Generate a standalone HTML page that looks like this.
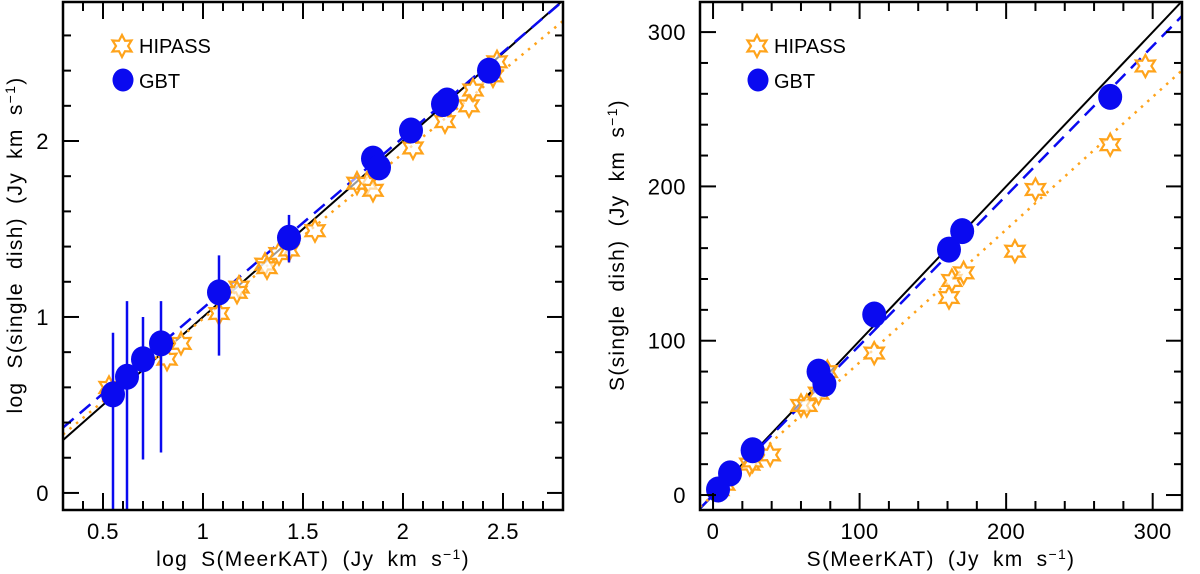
<!DOCTYPE html>
<html><head><meta charset="utf-8"><style>
html,body{margin:0;padding:0;background:#fff;}
svg{display:block;font-family:"Liberation Sans",sans-serif;}
</style></head><body>
<svg id="chart" width="1200" height="574" viewBox="0 0 1200 574" xmlns="http://www.w3.org/2000/svg"></svg>
<script>
// ---- Left panel data (log) ----
const logGbtX = [0.55,0.62,0.70,0.79,1.08,1.43,1.85,1.88,2.04,2.20,2.22,2.43];
const logGbtY = [0.56,0.66,0.76,0.85,1.14,1.45,1.90,1.85,2.06,2.21,2.23,2.40];
const logGbtErrLo = [-0.2,-0.2,0.19,0.23,0.78,1.31,null,null,null,null,null,null];
const logGbtErrHi = [0.91,1.09,1.00,1.09,1.35,1.58,null,null,null,null,null,null];
const logHipX = [0.53,0.82,0.89,1.08,1.18,1.17,1.31,1.32,1.38,1.43,1.56,1.77,1.82,1.85,2.05,2.21,2.33,2.35,2.45,2.47];
const logHipY = [0.60,0.76,0.85,1.02,1.17,1.14,1.30,1.28,1.36,1.38,1.49,1.76,1.76,1.72,1.96,2.11,2.20,2.29,2.37,2.45];
const logTicksX = [0.5,1,1.5,2,2.5];
const logTicksY = [0,1,2];
const logFitBlue = [0.97,0.08];   // slope, intercept
const logFitOrange = [0.94,0.05];
// ---- Right panel data (linear) ----
const linGbtX = [3.4,11.6,27,72,76,110,161,170,271];
const linGbtY = [3.6,14,29,80,72,117,159,171,258];
const linHipX = [4,8,25,27,39,60,64,72,78,110,161,163,171,206,220,271,295];
const linHipY = [3.5,7,20,22,26,58,58,66,80,92,128,139,144,158,198,227,278];
const linTicks = [0,100,200,300];
const linFitBlue = [0.97,0];
const linFitOrange = [0.86,0];

const NS="http://www.w3.org/2000/svg";
const svg=document.getElementById('chart');
function mk(tag,attrs,parent){const e=document.createElementNS(NS,tag);for(const k in attrs)e.setAttribute(k,attrs[k]);(parent||svg).appendChild(e);return e;}
const BLUE="#0a0af0", ORANGE="#ffa31a";

function starPath(cx,cy,R){
  const r=R*0.55;let d="";
  for(let i=0;i<12;i++){const a=-Math.PI/2+i*Math.PI/6;const rr=i%2?r:R;d+=(i?"L":"M")+(cx+rr*Math.cos(a)).toFixed(1)+" "+(cy+rr*Math.sin(a)).toFixed(1);}
  return d+"Z";
}

function panel(cfg){
  const g=mk('g',{});
  
  
  const {x0,x1,y0,y1,xmin,xmax,ymin,ymax}=cfg;
  const sx=v=>x0+(v-xmin)/(xmax-xmin)*(x1-x0);
  const sy=v=>y1-(v-ymin)/(ymax-ymin)*(y1-y0);
  const clip='clip-'+cfg.name;
  const cp=mk('clipPath',{id:clip},g);mk('rect',{x:x0,y:y0,width:x1-x0,height:y1-y0},cp);
  const pg=mk('g',{'clip-path':'url(#'+clip+')'},g);
  const l1=mk('line',{x1:sx(xmin),y1:sy(xmin),x2:sx(xmax),y2:sy(xmax),stroke:'#000','stroke-width':2},pg);
  
  
  const fb=cfg.fitBlue;
  const l2=mk('line',{x1:sx(xmin),y1:sy(fb[0]*xmin+fb[1]),x2:sx(xmax),y2:sy(fb[0]*xmax+fb[1]),stroke:BLUE,'stroke-width':2.5,'stroke-dasharray':'14 8'},pg);
  
  
  const fo=cfg.fitOrange;
  const l3=mk('line',{x1:sx(xmin),y1:sy(fo[0]*xmin+fo[1]),x2:sx(xmax),y2:sy(fo[0]*xmax+fo[1]),stroke:ORANGE,'stroke-width':2.5,'stroke-dasharray':'2.5 6'},pg);
  
  
  cfg.hipX.forEach((v,i)=>{
    const s=mk('path',{d:starPath(sx(v),sy(cfg.hipY[i]),11),fill:'#fff','fill-opacity':0.6,stroke:ORANGE,'stroke-width':2.2},pg);
    
    
  });
  if(cfg.errLo){cfg.gbtX.forEach((v,i)=>{if(cfg.errLo[i]==null)return;
    const e=mk('line',{x1:sx(v),x2:sx(v),y1:sy(cfg.errLo[i]),y2:sy(cfg.errHi[i]),stroke:BLUE,'stroke-width':2.5},pg);
    
    
  });}
  cfg.gbtX.forEach((v,i)=>{
    const c=mk('ellipse',{cx:sx(v),cy:sy(cfg.gbtY[i]),rx:12,ry:13,fill:BLUE},pg);
    
    
  });
  const tk=mk('g',{stroke:'#000','stroke-width':2},g);
  const minorStepX=cfg.minorX, minorStepY=cfg.minorY;
  for(let v=Math.ceil(xmin/minorStepX)*minorStepX;v<=xmax+1e-9;v+=minorStepX){
    const major=cfg.ticksX.some(t=>Math.abs(t-v)<1e-6);const L=major?17:9;const X=sx(v);
    mk('line',{x1:X,x2:X,y1:y1,y2:y1-L},tk);mk('line',{x1:X,x2:X,y1:y0,y2:y0+L},tk);
  }
  for(let v=Math.ceil(ymin/minorStepY)*minorStepY;v<=ymax+1e-9;v+=minorStepY){
    const major=cfg.ticksY.some(t=>Math.abs(t-v)<1e-6);const L=major?16:8;const Y=sy(v);
    mk('line',{x1:x0,x2:x0+L,y1:Y,y2:Y},tk);mk('line',{x1:x1,x2:x1-L,y1:Y,y2:Y},tk);
  }
  const fr=mk('rect',{x:x0,y:y0,width:x1-x0,height:y1-y0,fill:'none',stroke:'#000','stroke-width':2.5},g);
  
  
  cfg.ticksX.forEach(t=>{
    const e=mk('text',{x:sx(t),y:y1+29,'text-anchor':'middle','font-size':22,'letter-spacing':'0.5'},g);e.textContent=String(t);
    
    
  });
  cfg.ticksY.forEach(t=>{
    const e=mk('text',{x:x0-14,y:sy(t)+8,'text-anchor':'end','font-size':22,'letter-spacing':'0.5'},g);e.textContent=String(t);
    
    
  });
  const tstyle={'font-size':21,'letter-spacing':'1.3','word-spacing':'6'};
  const xt=mk('text',Object.assign({x:(x0+x1)/2,y:566,'text-anchor':'middle'},tstyle),g);
  xt.innerHTML=cfg.xTitle+' (Jy km s<tspan dy="-7" font-size="14">−1</tspan><tspan dy="7">)</tspan>';
  
  
  const yt=mk('text',Object.assign({x:0,y:0,'text-anchor':'middle',transform:'translate('+cfg.yTitleX+','+cfg.yTitleY+') rotate(-90)'},tstyle),g);
  yt.innerHTML=cfg.yTitle+' (Jy km s<tspan dy="-7" font-size="14">−1</tspan><tspan dy="7">)</tspan>';
  
  
  const lg=mk('g',{},g);
  
  
  const lx=cfg.legX;
  mk('path',{d:starPath(lx,46,11),fill:'#fff',stroke:ORANGE,'stroke-width':2.2},lg);
  const t1=mk('text',{x:lx+17,y:53,'font-size':20},lg);t1.textContent='HIPASS';
  
  
  mk('ellipse',{cx:lx+1,cy:80,rx:10.5,ry:11.5,fill:BLUE},lg);
  const t2=mk('text',{x:lx+17,y:88,'font-size':20},lg);t2.textContent='GBT';
  
  
}

panel({name:'log-panel',x0:63,x1:563,y0:2,y1:510,xmin:0.3,xmax:2.8,ymin:-0.097,ymax:2.79,
  gbtX:logGbtX,gbtY:logGbtY,errLo:logGbtErrLo,errHi:logGbtErrHi,hipX:logHipX,hipY:logHipY,
  ticksX:logTicksX,ticksY:logTicksY,minorX:0.1,minorY:0.2,fitBlue:logFitBlue,fitOrange:logFitOrange,
  xTitle:'log S(MeerKAT)',yTitle:'log S(single dish)',yTitleX:22,yTitleY:245,legX:122});
panel({name:'linear-panel',x0:700,x1:1182,y0:2,y1:510,xmin:-8.9,xmax:320,ymin:-9.7,ymax:319.5,
  gbtX:linGbtX,gbtY:linGbtY,errLo:null,hipX:linHipX,hipY:linHipY,
  ticksX:linTicks,ticksY:linTicks,minorX:20,minorY:20,fitBlue:linFitBlue,fitOrange:linFitOrange,
  xTitle:'S(MeerKAT)',yTitle:'S(single dish)',yTitleX:624,yTitleY:245,legX:757});
</script>
</body></html>
